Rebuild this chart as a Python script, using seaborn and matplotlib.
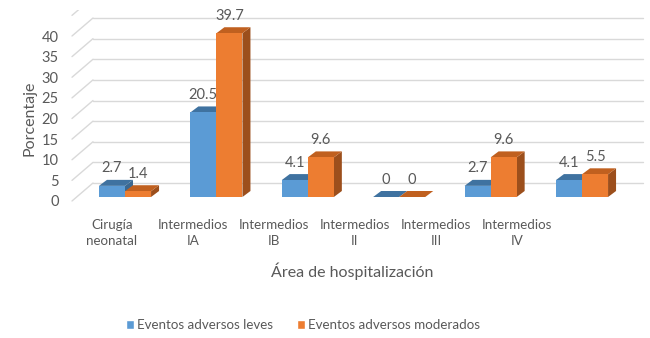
import pandas as pd
import matplotlib.pyplot as plt
import seaborn as sns
from matplotlib.patches import Polygon, Patch

# data
areas = ['Cirugía\nneonatal', 'Intermedios\nIA', 'Intermedios\nIB',
         'Intermedios\nII', 'Intermedios\nIII', 'Intermedios\nIV']
leves = [2.7, 20.5, 4.1, 0, 2.7, 4.1]
moderados = [1.4, 39.7, 9.6, 0, 9.6, 5.5]
series = ['Eventos adversos leves', 'Eventos adversos moderados']

df = pd.DataFrame({
    'area': areas * 2,
    'valor': leves + moderados,
    'serie': [series[0]] * len(areas) + [series[1]] * len(areas),
})

blue, orange = '#5B9BD5', '#ED7D31'
tops = {blue: '#3F72A0', orange: '#C0601F'}
sides = {blue: '#3A6891', orange: '#9C4F1C'}
grey = '#595959'

sns.set_style('white')
plt.rcParams['font.family'] = ['Lato', 'DejaVu Sans']

W, H = 650, 338
fig = plt.figure(figsize=(W / 100, H / 100), dpi=100)

# axes box in pixels (from top-left)
left_px, right_px, top_px, bot_px = 60, 645, 10, 205
pos = [left_px / W, (H - bot_px) / H, (right_px - left_px) / W, (bot_px - top_px) / H]
ppu = 4.125  # pixels per percent

# front plane (labels): slightly lower and narrower spacing
axf = fig.add_axes(pos)
lab0, lab_step = 112, 81
axf.set_xlim((left_px - lab0) / lab_step, (right_px - lab0) / lab_step)
axf.set_ylim((201 - bot_px) / ppu, (201 - top_px) / ppu)
axf.set_xticks(range(len(areas)))
axf.set_xticklabels(areas, fontsize=9.6, color=grey, linespacing=1.4)
axf.set_yticks(range(0, 45, 5))
axf.tick_params(axis='both', length=0, labelsize=10.5, labelcolor=grey)
axf.tick_params(axis='x', pad=10, labelsize=9.6)
axf.tick_params(axis='y', pad=1)
axf.set_xlabel('Área de hospitalización', fontsize=11.5, color=grey, labelpad=11)
axf.set_ylabel('Porcentaje', fontsize=11.5, color=grey)
axf.yaxis.set_label_coords(-0.04, 0.446)
sns.despine(ax=axf, left=True, bottom=True)

# bar plane
ax = fig.add_axes(pos)
ax.patch.set_alpha(0)
bar0, bar_step = 125, 91.4
sns.barplot(data=df, x='area', y='valor', hue='serie', palette=[blue, orange],
            width=0.57, gap=0, saturation=1, linewidth=0, ax=ax, legend=False)
ax.set_xlim((left_px - bar0) / bar_step, (right_px - bar0) / bar_step)
ax.set_ylim((197 - bot_px) / ppu, (197 - top_px) / ppu)
ax.set_xticks([])
ax.set_yticks([])
ax.set_xlabel('')
ax.set_ylabel('')
sns.despine(ax=ax, left=True, bottom=True)

# back wall grid with diagonals to the front
def px_x(px):
    return (px - bar0) / bar_step

back_dy = 14 / ppu
front_dy = -4 / ppu
for v in range(0, 50, 5):
    ax.plot([px_x(93), px_x(643)], [v + back_dy] * 2, color='#D9D9D9', lw=1, zorder=0)
    ax.plot([px_x(72), px_x(93)], [v + front_dy, v + back_dy], color='#D9D9D9', lw=1, zorder=0)

# fake 3d depth on each bar
ddx, ddy = 8 / bar_step, 6 / ppu
for cont, c in zip(ax.containers, [blue, orange]):
    for p in cont:
        x, y, w, h = p.get_x(), p.get_y(), p.get_width(), p.get_height()
        p.set_facecolor(c)
        p.set_edgecolor('none')
        top = Polygon([(x, y + h), (x + w, y + h), (x + w + ddx, y + h + ddy), (x + ddx, y + h + ddy)],
                      closed=True, facecolor=tops[c], edgecolor='none', zorder=2)
        side = Polygon([(x + w, y), (x + w + ddx, y + ddy), (x + w + ddx, y + h + ddy), (x + w, y + h)],
                       closed=True, facecolor=sides[c], edgecolor='none', zorder=2)
        ax.add_patch(side)
        ax.add_patch(top)
        p.set_zorder(3)

# value labels
for cont in ax.containers:
    ax.bar_label(cont, labels=[f'{v:g}' for v in cont.datavalues], padding=7.5,
                 fontsize=10.5, color=grey)

handles = [Patch(facecolor=blue, label=series[0]), Patch(facecolor=orange, label=series[1])]
fig.legend(handles=handles, loc='center', bbox_to_anchor=(303 / W, (H - 325) / H),
           ncol=2, frameon=False, fontsize=9.6, handlelength=0.6, handleheight=0.6,
           handletextpad=0.25, columnspacing=1.8, labelcolor=grey)

fig.savefig('out.png', dpi=100)
